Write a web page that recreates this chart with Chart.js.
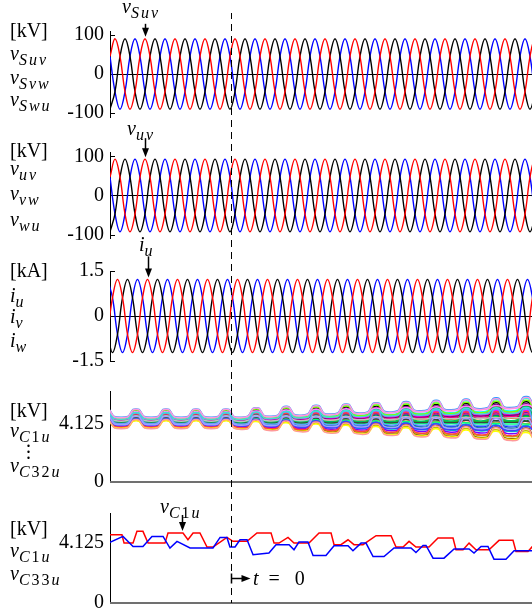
<!DOCTYPE html>
<html>
<head>
<meta charset="utf-8">
<script src="https://cdn.jsdelivr.net/npm/chart.js@4.4.1/dist/chart.umd.min.js"></script>
<style>
  html, body { margin: 0; padding: 0; background: #fff; overflow: hidden; }
  #fig { position: relative; width: 532px; height: 616px; overflow: hidden; }
  #fig canvas { position: absolute; left: 0; }
  .lab { position: absolute; font-family: 'Liberation Serif', 'Times New Roman', serif; font-size: 20px;
         line-height: 20px; color: #000; white-space: nowrap; }
  .lab i { font-style: italic; }
  .lab sub { font-size: 16px; font-style: italic; vertical-align: -5px; line-height: 0; letter-spacing: 2px; }
  .lab .r { font-style: normal; }
  .dots { position: absolute; font-family: 'Liberation Serif', serif; font-size: 20px; line-height: 6px; }
</style>
</head>
<body>
<div id="fig">
  <canvas id="p1" width="560" height="130" style="top:0px"></canvas>
  <canvas id="p2" width="560" height="120" style="top:130px"></canvas>
  <canvas id="p3" width="560" height="125" style="top:250px"></canvas>
  <canvas id="p4" width="560" height="120" style="top:375px"></canvas>
  <canvas id="p5" width="560" height="121" style="top:495px"></canvas>

  <!-- panel 1 -->
  <div class="lab" style="left:10px;top:20px">[kV]</div>
  <div class="lab" style="left:10px;top:43px"><i>v</i><sub>Suv</sub></div>
  <div class="lab" style="left:10px;top:67px"><i>v</i><sub>Svw</sub></div>
  <div class="lab" style="left:10px;top:89px"><i>v</i><sub>Swu</sub></div>
  <div class="lab" style="left:122px;top:-4px"><i>v</i><sub>Suv</sub></div>
  <!-- panel 2 -->
  <div class="lab" style="left:10px;top:140px">[kV]</div>
  <div class="lab" style="left:10px;top:158px"><i>v</i><sub>uv</sub></div>
  <div class="lab" style="left:10px;top:183px"><i>v</i><sub>vw</sub></div>
  <div class="lab" style="left:10px;top:209px"><i>v</i><sub>wu</sub></div>
  <div class="lab" style="left:127px;top:118px"><i>v</i><sub>uv</sub></div>
  <!-- panel 3 -->
  <div class="lab" style="left:10px;top:260px">[kA]</div>
  <div class="lab" style="left:10px;top:285px"><i>i</i><sub>u</sub></div>
  <div class="lab" style="left:10px;top:306px"><i>i</i><sub>v</sub></div>
  <div class="lab" style="left:10px;top:330px"><i>i</i><sub>w</sub></div>
  <div class="lab" style="left:139px;top:234px"><i>i</i><sub>u</sub></div>
  <!-- panel 4 -->
  <div class="lab" style="left:10px;top:400px">[kV]</div>
  <div class="lab" style="left:10px;top:420px"><i>v</i><sub>C<span class="r">1</span>u</sub></div>
  <div class="dots" style="left:26px;top:437px">.<br>.<br>.</div>
  <div class="lab" style="left:10px;top:455px"><i>v</i><sub>C<span class="r">32</span>u</sub></div>
  <!-- panel 5 -->
  <div class="lab" style="left:10px;top:518px">[kV]</div>
  <div class="lab" style="left:10px;top:540px"><i>v</i><sub>C<span class="r">1</span>u</sub></div>
  <div class="lab" style="left:10px;top:563px"><i>v</i><sub>C<span class="r">33</span>u</sub></div>
  <div class="lab" style="left:160px;top:496px"><i>v</i><sub>C<span class="r">1</span>u</sub></div>
  <div class="lab" style="left:253px;top:568px"><i>t</i>&nbsp;&nbsp;=&nbsp;&nbsp;&nbsp;0</div>
</div>

<script>
// time axis in ms, t = 0 at the dashed line
const T_MIN = -80.67;
const T_MAX = 219.33;
const AXIS_X = 110;          // left edge of every plot
const SAMPLE_MS = 20 / 6;    // 60 degree steps of the 50 Hz period
const V_START = -80.67;      // first sample of the voltage traces
const I_START = -82.33;      // first sample of the current traces

// grid voltages v_Suv, v_Svw, v_Swu [kV]
const vSuv = [
  45, 90, 45, -45, -90, -45, 45, 90, 45, -45, -90, -45, 45, 90, 45, -45, -90, -45,
  45, 90, 45, -45, -90, -45, 45, 90, 45, -45, -90, -45, 45, 90, 45, -45, -90, -45,
  45, 90, 45, -45, -90, -45, 45, 90, 45, -45, -90, -45, 45, 90, 45, -45, -90, -45,
  45, 90, 45, -45, -90, -45, 45, 90, 45, -45, -90, -45, 45, 90, 45, -45, -90, -45,
  45, 90, 45, -45, -90, -45, 45, 90, 45, -45, -90, -45, 45, 90, 45, -45, -90, -45,
  45
];
const vSvw = [
  -90, -45, 45, 90, 45, -45, -90, -45, 45, 90, 45, -45, -90, -45, 45, 90, 45, -45,
  -90, -45, 45, 90, 45, -45, -90, -45, 45, 90, 45, -45, -90, -45, 45, 90, 45, -45,
  -90, -45, 45, 90, 45, -45, -90, -45, 45, 90, 45, -45, -90, -45, 45, 90, 45, -45,
  -90, -45, 45, 90, 45, -45, -90, -45, 45, 90, 45, -45, -90, -45, 45, 90, 45, -45,
  -90, -45, 45, 90, 45, -45, -90, -45, 45, 90, 45, -45, -90, -45, 45, 90, 45, -45,
  -90
];
const vSwu = [
  45, -45, -90, -45, 45, 90, 45, -45, -90, -45, 45, 90, 45, -45, -90, -45, 45, 90,
  45, -45, -90, -45, 45, 90, 45, -45, -90, -45, 45, 90, 45, -45, -90, -45, 45, 90,
  45, -45, -90, -45, 45, 90, 45, -45, -90, -45, 45, 90, 45, -45, -90, -45, 45, 90,
  45, -45, -90, -45, 45, 90, 45, -45, -90, -45, 45, 90, 45, -45, -90, -45, 45, 90,
  45, -45, -90, -45, 45, 90, 45, -45, -90, -45, 45, 90, 45, -45, -90, -45, 45, 90,
  45
];

// converter voltages v_uv, v_vw, v_wu [kV]
const vUv = [
  47, 93, 47, -47, -93, -47, 47, 93, 47, -47, -93, -47, 47, 93, 47, -47, -93, -47,
  47, 93, 47, -47, -93, -47, 47, 93, 47, -47, -93, -47, 47, 93, 47, -47, -93, -47,
  47, 93, 47, -47, -93, -47, 47, 93, 47, -47, -93, -47, 47, 93, 47, -47, -93, -47,
  47, 93, 47, -47, -93, -47, 47, 93, 47, -47, -93, -47, 47, 93, 47, -47, -93, -47,
  47, 93, 47, -47, -93, -47, 47, 93, 47, -47, -93, -47, 47, 93, 47, -47, -93, -47,
  47
];
const vVw = [
  -93, -47, 47, 93, 47, -47, -93, -47, 47, 93, 47, -47, -93, -47, 47, 93, 47, -47,
  -93, -47, 47, 93, 47, -47, -93, -47, 47, 93, 47, -47, -93, -47, 47, 93, 47, -47,
  -93, -47, 47, 93, 47, -47, -93, -47, 47, 93, 47, -47, -93, -47, 47, 93, 47, -47,
  -93, -47, 47, 93, 47, -47, -93, -47, 47, 93, 47, -47, -93, -47, 47, 93, 47, -47,
  -93, -47, 47, 93, 47, -47, -93, -47, 47, 93, 47, -47, -93, -47, 47, 93, 47, -47,
  -93
];
const vWu = [
  47, -47, -93, -47, 47, 93, 47, -47, -93, -47, 47, 93, 47, -47, -93, -47, 47, 93,
  47, -47, -93, -47, 47, 93, 47, -47, -93, -47, 47, 93, 47, -47, -93, -47, 47, 93,
  47, -47, -93, -47, 47, 93, 47, -47, -93, -47, 47, 93, 47, -47, -93, -47, 47, 93,
  47, -47, -93, -47, 47, 93, 47, -47, -93, -47, 47, 93, 47, -47, -93, -47, 47, 93,
  47, -47, -93, -47, 47, 93, 47, -47, -93, -47, 47, 93, 47, -47, -93, -47, 47, 93,
  47
];

// arm currents i_u, i_v, i_w [kA]
const iU = [
  -0.61, 0.61, 1.22, 0.61, -0.61, -1.22, -0.61, 0.61, 1.22, 0.61, -0.61, -1.22,
  -0.61, 0.61, 1.22, 0.61, -0.61, -1.22, -0.61, 0.61, 1.22, 0.61, -0.61, -1.22,
  -0.61, 0.61, 1.22, 0.61, -0.61, -1.22, -0.61, 0.61, 1.22, 0.61, -0.61, -1.22,
  -0.61, 0.61, 1.22, 0.61, -0.61, -1.22, -0.61, 0.61, 1.22, 0.61, -0.61, -1.22,
  -0.61, 0.61, 1.22, 0.61, -0.61, -1.22, -0.61, 0.61, 1.22, 0.61, -0.61, -1.22,
  -0.61, 0.61, 1.22, 0.61, -0.61, -1.22, -0.61, 0.61, 1.22, 0.61, -0.61, -1.22,
  -0.61, 0.61, 1.22, 0.61, -0.61, -1.22, -0.61, 0.61, 1.22, 0.61, -0.61, -1.22,
  -0.61, 0.61, 1.22, 0.61, -0.61, -1.22, -0.61, 0.61
];
const iV = [
  -0.61, -1.22, -0.61, 0.61, 1.22, 0.61, -0.61, -1.22, -0.61, 0.61, 1.22, 0.61,
  -0.61, -1.22, -0.61, 0.61, 1.22, 0.61, -0.61, -1.22, -0.61, 0.61, 1.22, 0.61,
  -0.61, -1.22, -0.61, 0.61, 1.22, 0.61, -0.61, -1.22, -0.61, 0.61, 1.22, 0.61,
  -0.61, -1.22, -0.61, 0.61, 1.22, 0.61, -0.61, -1.22, -0.61, 0.61, 1.22, 0.61,
  -0.61, -1.22, -0.61, 0.61, 1.22, 0.61, -0.61, -1.22, -0.61, 0.61, 1.22, 0.61,
  -0.61, -1.22, -0.61, 0.61, 1.22, 0.61, -0.61, -1.22, -0.61, 0.61, 1.22, 0.61,
  -0.61, -1.22, -0.61, 0.61, 1.22, 0.61, -0.61, -1.22, -0.61, 0.61, 1.22, 0.61,
  -0.61, -1.22, -0.61, 0.61, 1.22, 0.61, -0.61, -1.22
];
const iW = [
  1.22, 0.61, -0.61, -1.22, -0.61, 0.61, 1.22, 0.61, -0.61, -1.22, -0.61, 0.61,
  1.22, 0.61, -0.61, -1.22, -0.61, 0.61, 1.22, 0.61, -0.61, -1.22, -0.61, 0.61,
  1.22, 0.61, -0.61, -1.22, -0.61, 0.61, 1.22, 0.61, -0.61, -1.22, -0.61, 0.61,
  1.22, 0.61, -0.61, -1.22, -0.61, 0.61, 1.22, 0.61, -0.61, -1.22, -0.61, 0.61,
  1.22, 0.61, -0.61, -1.22, -0.61, 0.61, 1.22, 0.61, -0.61, -1.22, -0.61, 0.61,
  1.22, 0.61, -0.61, -1.22, -0.61, 0.61, 1.22, 0.61, -0.61, -1.22, -0.61, 0.61,
  1.22, 0.61, -0.61, -1.22, -0.61, 0.61, 1.22, 0.61, -0.61, -1.22, -0.61, 0.61,
  1.22, 0.61, -0.61, -1.22, -0.61, 0.61, 1.22, 0.61
];

// capacitor voltages v_C1u .. v_C32u: band centre, band half-width, cell placement
const vcT = [
  -88.8, -85.3, -81.3, -77.8, -68.8, -65.3, -61.3, -57.8, -48.8, -45.3, -41.3, -37.8,
  -28.8, -25.3, -21.3, -17.8, -8.8, -5.3, -1.3, 2.2, 11.2, 14.7, 18.7, 22.2,
  31.2, 34.7, 38.7, 42.2, 51.2, 54.7, 58.7, 62.2, 71.2, 74.7, 78.7, 82.2,
  91.2, 94.7, 98.7, 102.2, 111.2, 114.7, 118.7, 122.2, 131.2, 134.7, 138.7, 142.2,
  151.2, 154.7, 158.7, 162.2, 171.2, 174.7, 178.7, 182.2, 191.2, 194.7, 198.7, 202.2,
  211.2, 214.7, 218.7, 222.2
];
const vcCenter = [
  4.26, 4.72, 4.72, 4.26, 4.26, 4.72, 4.72, 4.26, 4.26, 4.72, 4.72, 4.26,
  4.26, 4.72, 4.72, 4.26, 4.26, 4.72, 4.72, 4.24, 4.24, 4.74, 4.74, 4.24,
  4.24, 4.74, 4.74, 4.24, 4.24, 4.74, 4.74, 4.24, 4.24, 4.74, 4.74, 4.24,
  4.24, 4.74, 4.74, 4.24, 4.24, 4.74, 4.74, 4.24, 4.24, 4.74, 4.74, 4.24,
  4.24, 4.74, 4.74, 4.24, 4.24, 4.74, 4.74, 4.24, 4.24, 4.74, 4.74, 4.24,
  4.24, 4.74, 4.74, 4.24
];
const vcSpread = [
  0.42, 0.42, 0.42, 0.42, 0.42, 0.42, 0.42, 0.42, 0.42, 0.42, 0.42, 0.42,
  0.42, 0.42, 0.42, 0.42, 0.42, 0.42, 0.42, 0.43, 0.47, 0.48, 0.50, 0.52,
  0.55, 0.57, 0.59, 0.60, 0.64, 0.66, 0.67, 0.69, 0.73, 0.74, 0.76, 0.78,
  0.81, 0.83, 0.85, 0.86, 0.90, 0.92, 0.93, 0.95, 0.99, 1.00, 1.02, 1.03,
  1.07, 1.09, 1.10, 1.12, 1.16, 1.17, 1.19, 1.21, 1.25, 1.26, 1.28, 1.30,
  1.33, 1.35, 1.37, 1.38
];
const cellHigh = [
  0.1, -0.3, 0.5, -0.6, 0.2, -0.9, 0.7, -0.1, 0.35, -0.45, 0.9, -0.2, 0.05, -0.75, 0.6, -0.5,
  0.25, -0.05, 0.8, -0.35, 0.15, -0.65, 0.45, -0.15, 0.3, -1.0, 0.55, -0.8, 0.4, -0.25, 1.0, 0.95
];
const cellLow = [
  -0.2, 0.4, 0.1, -0.5, 0.6, -0.8, 0.3, 0.05, -0.4, 0.2, 0.7, -0.6, 0.35, -0.9, 0.45, -0.1,
  0.5, -0.3, 0.65, 0.0, -0.7, -0.45, 0.15, 0.25, -0.15, -0.95, 0.8, -1.0, 0.55, -0.35, 0.9, 0.85
];
const cellColors = [
  '#0000ff', '#008000', '#ff0000', '#00bfbf', '#bf00bf', '#bfbf00', '#000000', '#00ff00',
  '#0080ff', '#ff8000', '#00ffff', '#8000ff', '#ff0080', '#804000', '#800080', '#00ff80',
  '#ff00ff', '#008080', '#80ff00', '#404040', '#ff4040', '#4040ff', '#00c060', '#c0c0c0',
  '#60a0ff', '#ffff00', '#ff80ff', '#ff9999', '#40e0d0', '#a0a0ff', '#3399ff', '#ff99dd'
];

// v_C1u (red) and v_C33u (blue) [kV]
const c1uT = [
  -82, -72.7, -71.3, -65.3, -62.7, -58.7, -55.3, -44, -42, -32, -28.7, -25.3, -20.7, -16, -12,
  -2.7, 1.3, 10.7, 17.3, 26.7, 28.7, 32, 38, 42, 52, 58.7, 66.7, 68.7, 73.3, 78, 82, 88,
  96.7, 106.7, 110, 114.7, 118.7, 123.3, 132, 138, 148, 150, 154.7, 158.7, 163.3, 172,
  178.7, 188, 190, 198, 201, 205, 222
];
const c1uV = [
  4.70, 4.70, 4.12, 4.12, 4.93, 4.93, 4.12, 4.12, 4.82, 4.82, 4.35, 4.82, 4.82, 3.85, 3.85,
  4.51, 4.24, 4.24, 4.82, 4.82, 4.12, 4.12, 4.51, 4.12, 4.12, 4.82, 4.82, 4.01, 4.01, 4.35, 4.01, 4.01,
  4.63, 4.63, 3.85, 3.85, 4.24, 3.85, 3.85, 4.47, 4.47, 3.66, 3.66, 4.12, 3.66, 3.66,
  4.31, 4.31, 3.54, 3.54, 3.89, 4.20, 4.20
];
const c33uT = [
  -82, -80.7, -72, -65.3, -58.7, -52.7, -45.3, -40.7, -36, -27.3, -12, -7.3, -2.7, -0.7, 2.7,
  6, 10.7, 14.7, 25.3, 30, 38.7, 42, 45.3, 51.3, 54.7, 63.3, 68.7, 78, 81.3, 86.7, 90,
  94.7, 102, 108.7, 120, 123.3, 128, 130, 134.7, 142, 148.7, 158.7, 162, 166.7, 171.3,
  175.3, 183.3, 188.7, 222
];
const c33uV = [
  4.12, 4.17, 4.58, 3.89, 3.89, 4.58, 4.58, 3.78, 4.24, 3.78, 3.78, 4.51, 4.51, 3.85, 3.85,
  4.35, 4.35, 3.31, 3.43, 4.01, 4.01, 3.66, 4.19, 4.19, 3.26, 3.26, 3.94, 3.94, 3.59, 4.12, 4.12,
  3.19, 3.19, 3.78, 3.78, 3.47, 3.96, 3.96, 3.08, 3.08, 3.71, 3.71, 3.43, 3.89, 3.89,
  3.01, 3.01, 3.59, 3.59
];

// y tick values per panel
const ticksKV = [-100, 0, 100];
const ticksKA = [-1.5, 0, 1.5];
const ticksCap = [0, 4.125];

Chart.defaults.font.family = "'Liberation Serif', 'Times New Roman', serif";

// dashed t = 0 line, short axis ticks, arrows and base lines
const overlayPlugin = {
  id: 'overlay',
  afterDatasetsDraw(chart, args, o) {
    const { ctx, chartArea: a, scales: { x, y } } = chart;
    ctx.save();
    ctx.strokeStyle = '#000';
    ctx.fillStyle = '#000';
    ctx.lineWidth = 1;
    (o.innerTicks || []).forEach(v => {
      const py = Math.round(y.getPixelForValue(v)) + 0.5;
      ctx.beginPath();
      ctx.moveTo(a.left, py);
      ctx.lineTo(a.left + 5, py);
      ctx.stroke();
    });
    if (o.baseLine) {
      const py = Math.round(y.getPixelForValue(0));
      ctx.strokeStyle = '#707070';
      ctx.lineWidth = 2;
      ctx.beginPath();
      ctx.moveTo(a.left, py);
      ctx.lineTo(a.right, py);
      ctx.stroke();
      ctx.strokeStyle = '#000';
      ctx.lineWidth = 1;
    }
    const x0 = Math.round(x.getPixelForValue(0)) + 0.5;
    ctx.setLineDash([7, 5]);
    ctx.lineDashOffset = (o.canvasTop + o.dash[0]) % 12;
    ctx.beginPath();
    ctx.moveTo(x0, o.dash[0]);
    ctx.lineTo(x0, o.dash[1]);
    ctx.stroke();
    ctx.setLineDash([]);
    if (o.arrow) {
      const px = Math.round(x.getPixelForValue(o.arrow.t)) + 0.5;
      const tip = y.getPixelForValue(o.arrow.v) - 2;
      ctx.lineWidth = 1.5;
      ctx.beginPath();
      ctx.moveTo(px, tip - o.arrow.len);
      ctx.lineTo(px, tip - 6);
      ctx.stroke();
      ctx.beginPath();
      ctx.moveTo(px - 3.5, tip - 9);
      ctx.lineTo(px + 3.5, tip - 9);
      ctx.lineTo(px, tip);
      ctx.closePath();
      ctx.fill();
    }
    if (o.startArrow) {
      const py = Math.round(y.getPixelForValue(o.startArrow.v)) + 0.5;
      ctx.lineWidth = 1.5;
      ctx.beginPath();
      ctx.moveTo(x0, py - 5);
      ctx.lineTo(x0, py + 5);
      ctx.moveTo(x0, py);
      ctx.lineTo(x0 + 12, py);
      ctx.stroke();
      ctx.beginPath();
      ctx.moveTo(x0 + 19, py);
      ctx.lineTo(x0 + 10, py - 3.5);
      ctx.lineTo(x0 + 10, py + 3.5);
      ctx.closePath();
      ctx.fill();
    }
    ctx.restore();
  }
};

function sampled(t0, ys, color) {
  return {
    data: ys.map((y, n) => ({ x: t0 + n * SAMPLE_MS, y })),
    borderColor: color,
    borderWidth: 1.4,
    tension: 0.4
  };
}

function traced(ts, vs, color, width) {
  return {
    data: ts.map((t, k) => ({ x: t, y: vs[k] })),
    borderColor: color,
    borderWidth: width,
    tension: 0
  };
}

function makePanel(id, datasets, yMin, yMax, yTicks, pad, zeroLine, overlay) {
  return new Chart(document.getElementById(id), {
    type: 'line',
    data: { datasets },
    options: {
      responsive: false,
      animation: false,
      devicePixelRatio: 1,
      layout: { padding: { left: 0, right: 0, top: pad[0], bottom: pad[1] } },
      elements: { point: { radius: 0 } },
      plugins: { legend: { display: false }, tooltip: { enabled: false }, overlay },
      scales: {
        x: { type: 'linear', display: false, min: T_MIN, max: T_MAX },
        y: {
          min: yMin,
          max: yMax,
          // fixed axis width; the layout padding alone sets the plot height
          afterFit: s => { s.width = AXIS_X; s.paddingTop = 0; s.paddingBottom = 0; },
          afterBuildTicks: s => { s.ticks = yTicks.map(v => ({ value: v })); },
          ticks: { callback: v => String(v), color: '#000', font: { size: 20 }, padding: 6, autoSkip: false },
          grid: {
            drawTicks: false,
            color: c => (zeroLine && c.tick && c.tick.value === 0) ? '#000' : 'rgba(0,0,0,0)'
          },
          border: { display: true, color: '#000', width: 1 }
        }
      }
    },
    plugins: [overlayPlugin]
  });
}

makePanel('p1', [
  sampled(V_START, vSuv, '#ff0000'),
  sampled(V_START, vSvw, '#000000'),
  sampled(V_START, vSwu, '#0000ff')
], -110, 110, ticksKV, [31, 13], true,
  { canvasTop: 0, dash: [13, 130], innerTicks: [100, -100], arrow: { t: -57.33, v: 90, len: 13 } });

makePanel('p2', [
  sampled(V_START, vUv, '#ff0000'),
  sampled(V_START, vVw, '#000000'),
  sampled(V_START, vWu, '#0000ff')
], -110, 110, ticksKV, [22.5, 11.5], true,
  { canvasTop: 130, dash: [0, 120], innerTicks: [100, -100], arrow: { t: -57.33, v: 93, len: 19 } });

makePanel('p3', [
  sampled(I_START, iU, '#ff0000'),
  sampled(I_START, iV, '#000000'),
  sampled(I_START, iW, '#0000ff')
], -1.5, 1.5, ticksKA, [21, 14], true,
  { canvasTop: 250, dash: [0, 125], innerTicks: [1.5, -1.5], arrow: { t: -55.67, v: 1.22, len: 21 } });

const cellSets = cellColors.map((color, i) => ({
  data: vcT.map((t, k) => ({
    x: t,
    y: vcCenter[k] + vcSpread[k] * ((k % 4 === 1 || k % 4 === 2) ? cellHigh[i] : cellLow[i])
  })),
  borderColor: color,
  borderWidth: 1.5,
  tension: 0.25
})).reverse();

makePanel('p4', cellSets, 0, 6.45, ticksCap, [16, 13], false,
  { canvasTop: 375, dash: [0, 120], baseLine: true });

makePanel('p5', [
  traced(c33uT, c33uV, '#0000ff', 1.5),
  traced(c1uT, c1uV, '#ff0000', 1.5)
], 0, 6.2, ticksCap, [18, 13.3], false,
  { canvasTop: 495, dash: [0, 108], baseLine: true, arrow: { t: -32.67, v: 4.82, len: 16 }, startArrow: { v: 1.7 } });
</script>
</body>
</html>
